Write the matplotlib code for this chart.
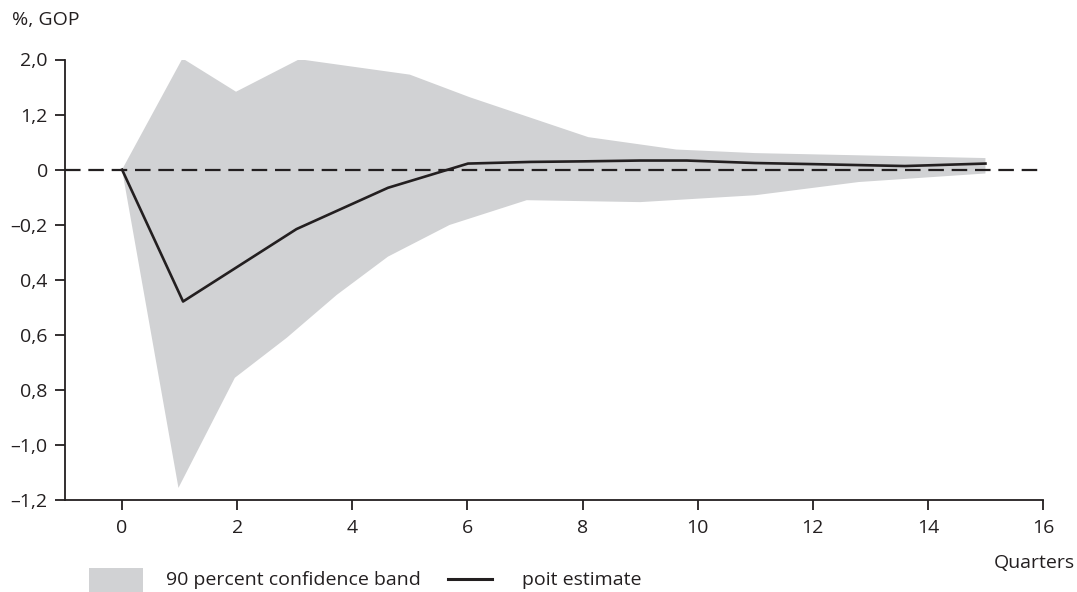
import matplotlib
matplotlib.use("Agg")
import matplotlib.pyplot as plt
from matplotlib.patches import Rectangle
from matplotlib.lines import Line2D

plt.rcParams['font.family'] = ['Open Sans', 'DejaVu Sans']

# point estimate
est_x = [0, 1.06, 3.03, 4.62, 6.01, 7.1, 8.0, 9.0, 9.81, 11.0, 12.0, 13.6, 15.0]
est_y = [0, -0.479, -0.216, -0.066, 0.022, 0.028, 0.030, 0.033, 0.033, 0.024, 0.020, 0.013, 0.022]

# 90 percent confidence band, upper and lower edges
up_x = [0, 1.05, 1.98, 3.08, 5.0, 6.04, 8.1, 9.63, 11.0, 12.8, 15.0]
up_y = [0, 0.404, 0.283, 0.401, 0.345, 0.263, 0.118, 0.073, 0.060, 0.052, 0.042]
lo_x = [0, 0.98, 1.96, 2.86, 3.73, 4.62, 5.69, 7.03, 9.0, 11.0, 12.8, 15.0]
lo_y = [0, -1.156, -0.756, -0.611, -0.455, -0.316, -0.201, -0.111, -0.118, -0.093, -0.045, -0.014]

# tick labels as printed on the original
yticks = [0.4, 0.2, 0, -0.2, -0.4, -0.6, -0.8, -1.0, -1.2]
ylabels = ['2,0', '1,2', '0', '\u20130,2', '0,4', '0,6', '0,8', '\u20131,0', '\u20131,2']
xticks = [0, 2, 4, 6, 8, 10, 12, 14, 16]

ink = '#231f20'
band = '#d1d2d4'
fs = 14

fig = plt.figure(figsize=(10.77, 5.92), dpi=100)
ax = fig.add_axes([64.5 / 1077, 1 - 500 / 592, (1043 - 64.5) / 1077, (500 - 59.5) / 592])

ax.fill(up_x + lo_x[::-1], up_y + lo_y[::-1], color=band, lw=0, zorder=1)
ax.axhline(0, xmin=0, xmax=1, color=ink, lw=1.6, dashes=(7, 3.5), zorder=2)
ax.plot(est_x, est_y, color=ink, lw=1.9, zorder=3)

ax.set_xlim(-1, 16)
ax.set_ylim(-1.2, 0.4)
ax.set_xticks(xticks)
ax.set_xticklabels([str(t) for t in xticks])
ax.set_yticks(yticks)
ax.set_yticklabels(ylabels)

for s in ['top', 'right']:
    ax.spines[s].set_visible(False)
for s in ['left', 'bottom']:
    ax.spines[s].set_color(ink)
    ax.spines[s].set_linewidth(1.3)
ax.tick_params(axis='both', direction='out', length=7, width=1.3, color=ink,
               labelcolor=ink, labelsize=fs)
ax.tick_params(axis='x', pad=7)
ax.tick_params(axis='y', pad=5)

fig.text(12 / 1077, 1 - 20 / 592, '%, GOP', fontsize=fs, color=ink, va='center', ha='left')
fig.text(1075 / 1077, 1 - 563 / 592, 'Quarters', fontsize=fs, color=ink, va='center', ha='right')

# legend
fig.add_artist(Rectangle((89 / 1077, 1 - 592 / 592), 54 / 1077, 24 / 592,
                         transform=fig.transFigure, color=band, lw=0))
fig.text(166 / 1077, 1 - 580 / 592, '90 percent confidence band', fontsize=fs, color=ink,
         va='center', ha='left')
fig.add_artist(Line2D([448 / 1077, 492 / 1077], [1 - 579 / 592, 1 - 579 / 592],
                      transform=fig.transFigure, color=ink, lw=2.2))
fig.text(522 / 1077, 1 - 580 / 592, 'poit estimate', fontsize=fs, color=ink,
         va='center', ha='left')

fig.savefig('out.png', dpi=100)
